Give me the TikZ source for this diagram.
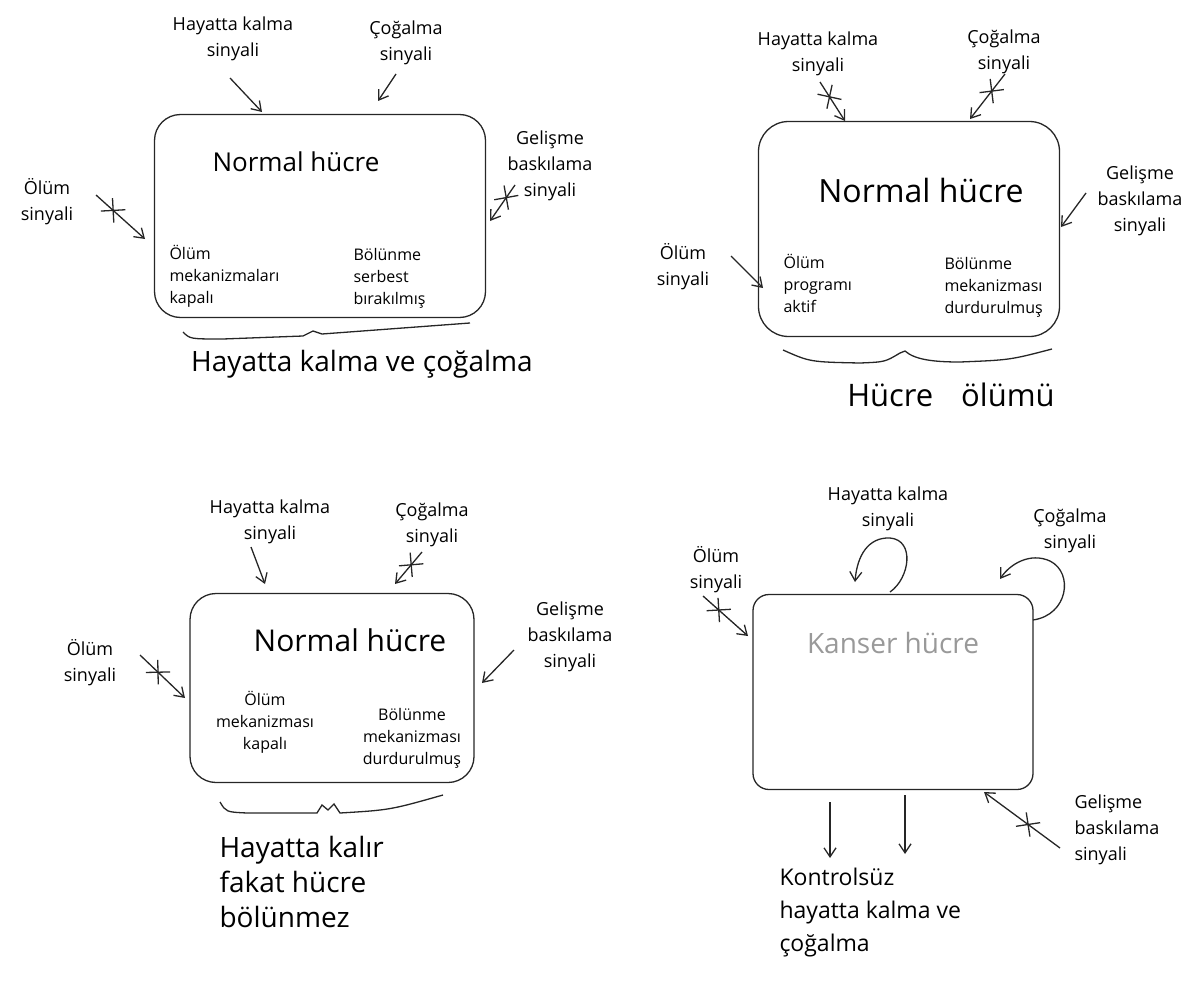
\documentclass[tikz,border=0pt]{standalone}
\usepackage{fontspec}
\setmainfont{Open Sans}
\usetikzlibrary{arrows.meta,shapes.misc}
\begin{document}
\begin{tikzpicture}[x=1pt,y=-1pt,
    pencil/.style={draw=black!85, line width=1.3pt},
    cell/.style={pencil, rounded corners=26pt, inner sep=0pt},
    sig/.style={align=center, font=\fontsize{18}{26}\selectfont},
    inr/.style={align=left, font=\fontsize{16}{22}\selectfont},
    ttl/.style={font=\fontsize{26}{30}\selectfont},
    captxt/.style={align=left, font=\fontsize{28}{35}\selectfont},
    arr/.style={pencil, -{Straight Barb[length=9pt,width=12pt]}},
    blk/.style={cross out, draw=black!85, line width=1.3pt, minimum size=16pt, inner sep=0pt, sloped}]
  \useasboundingbox (0,0) rectangle (1195,982);

  % normal cell, all signals working
  \node[cell, minimum width=331pt, minimum height=203pt] (c1) at (320,216) {};
  \draw
    (233,39) node[sig] (hay1) {Hayatta kalma\\sinyali}
    (406,43) node[sig] (cog1) {Çoğalma\\sinyali}
    (47,202) node[sig] (olm1) {Ölüm\\sinyali}
    (550,166) node[sig] (gel1) {Gelişme\\baskılama\\sinyali}
    (296,162) node[ttl] (ttl1) {Normal hücre}
    (166,276) node[inr, anchor=west] (in1a) {Ölüm\\mekanizmaları\\kapalı}
    (350,278) node[inr, anchor=west] (in1b) {Bölünme\\serbest\\bırakılmış}
    (362,364) node[captxt] (cap1) {Hayatta kalma ve çoğalma};
  \coordinate (a1) at (230,78);   \coordinate (b1) at (262,112);
  \coordinate (a2) at (396,74);   \coordinate (b2) at (378,101);
  \coordinate (a3) at (96,195);   \coordinate (b3) at (145,239);
  \coordinate (a4) at (515,185);  \coordinate (b4) at (490,221);
  \begin{scope}[arr]
    \draw (a1) to (b1);
    \draw (a2) to (b2);
    \draw (a3) to node[blk, pos=0.35]{} (b3);
    \draw (a4) to node[blk, pos=0.35]{} (b4);
  \end{scope}
  \draw[pencil] (183,332) .. controls (190,339) .. (223,339) -- (303,336)
    -- (313,331) -- (322,334) -- (470,323);

  % normal cell, cell death
  \node[cell, rounded corners=30pt, minimum width=301pt, minimum height=215pt] (c2) at (909,229) {};
  \draw
    (818,54) node[sig] (hay2) {Hayatta kalma\\sinyali}
    (1004,52) node[sig] (cog2) {Çoğalma\\sinyali}
    (683,267) node[sig] (olm2) {Ölüm\\sinyali}
    (1140,201) node[sig] (gel2) {Gelişme\\baskılama\\sinyali}
    (921,190) node[ttl, font=\fontsize{32}{36}\selectfont] (ttl2) {Normal hücre}
    (780,283) node[inr, anchor=west] (in2a) {Ölüm\\programı\\aktif}
    (941,287) node[inr, anchor=west] (in2b) {Bölünme\\mekanizması\\durdurulmuş}
    (951,395) node[captxt, font=\fontsize{31}{35}\selectfont] (cap2) {Hücre\hspace{0.9em}ölümü};
  \coordinate (a5) at (820,82);   \coordinate (b5) at (845,121);
  \coordinate (a6) at (1005,74);  \coordinate (b6) at (970,119);
  \coordinate (a7) at (731,256);  \coordinate (b7) at (763,288);
  \coordinate (a8) at (1086,193); \coordinate (b8) at (1061,227);
  \begin{scope}[arr]
    \draw (a5) to node[blk, pos=0.38]{} (b5);
    \draw (a6) to node[blk, pos=0.38]{} (b6);
    \draw (a7) to (b7);
    \draw (a8) to (b8);
  \end{scope}
  \draw[pencil] (783,350) .. controls (810,362) .. (860,363)
    .. controls (885,362) .. (900,353) -- (905,351)
    .. controls (915,360) and (935,362) .. (960,362)
    .. controls (1010,360) .. (1052,349);

  % normal cell, survives but does not divide
  \node[cell, minimum width=284pt, minimum height=189pt] (c3) at (332,688) {};
  \draw
    (270,522) node[sig] (hay3) {Hayatta kalma\\sinyali}
    (432,525) node[sig] (cog3) {Çoğalma\\sinyali}
    (90,663) node[sig] (olm3) {Ölüm\\sinyali}
    (570,637) node[sig] (gel3) {Gelişme\\baskılama\\sinyali}
    (350,640) node[ttl, font=\fontsize{30}{34}\selectfont] (ttl3) {Normal hücre}
    (265,722) node[inr, align=center] (in3a) {Ölüm\\mekanizması\\kapalı}
    (412,738) node[inr, align=center] (in3b) {Bölünme\\mekanizması\\durdurulmuş}
    (216,882) node[captxt, anchor=west] (cap3) {Hayatta kalır\\fakat hücre\\bölünmez};
  \coordinate (a9) at (251,547);  \coordinate (b9) at (265,584);
  \coordinate (a10) at (422,552); \coordinate (b10) at (395,584);
  \coordinate (a11) at (140,655); \coordinate (b11) at (185,698);
  \coordinate (a12) at (514,650); \coordinate (b12) at (482,683);
  \begin{scope}[arr]
    \draw (a9) to (b9);
    \draw (a10) to node[blk, pos=0.4]{} (b10);
    \draw (a11) to node[blk, pos=0.4]{} (b11);
    \draw (a12) to (b12);
  \end{scope}
  \draw[pencil] (220,802) .. controls (226,812) .. (247,813) -- (317,813)
    -- (322,805) -- (328,810) -- (334,804) -- (340,813)
    .. controls (390,810) .. (443,795);

  % cancer cell
  \node[cell, rounded corners=16pt, minimum width=280pt, minimum height=195pt] (c4) at (893,692) {};
  \draw
    (888,509) node[sig] (hay4) {Hayatta kalma\\sinyali}
    (1070,531) node[sig] (cog4) {Çoğalma\\sinyali}
    (716,570) node[sig] (olm4) {Ölüm\\sinyali}
    (1071,830) node[sig, anchor=west, align=left] (gel4) {Gelişme\\baskılama\\sinyali}
    (893,643) node[ttl, text=black!40, font=\fontsize{28}{32}\selectfont] (ttl4) {Kanser hücre}
    (776,913) node[captxt, font=\fontsize{23}{33}\selectfont] [anchor=west] (cap4) {Kontrolsüz\\hayatta kalma ve\\çoğalma};
  \coordinate (a13) at (890,592);  \coordinate (b13) at (855,582);
  \coordinate (a14) at (1033,620); \coordinate (b14) at (1000,579);
  \coordinate (a15) at (703,596);  \coordinate (b15) at (748,636);
  \coordinate (a16) at (1060,848); \coordinate (b16) at (984,792);
  \coordinate (a17) at (830,802);  \coordinate (b17) at (830,858);
  \coordinate (a18) at (905,795);  \coordinate (b18) at (905,854);
  \begin{scope}[arr]
    \draw (a13) .. controls (910,578) and (915,540) .. (890,538)
      .. controls (868,537) and (857,556) .. (b13);
    \draw (a14) .. controls (1068,615) and (1074,573) .. (1050,561)
      .. controls (1030,552) and (1010,564) .. (b14);
    \draw (a15) to node[blk, pos=0.35]{} (b15);
    \draw (a16) to node[blk, pos=0.42]{} (b16);
    \draw (a17) to (b17);
    \draw (a18) to (b18);
  \end{scope}
\end{tikzpicture}
\end{document}
